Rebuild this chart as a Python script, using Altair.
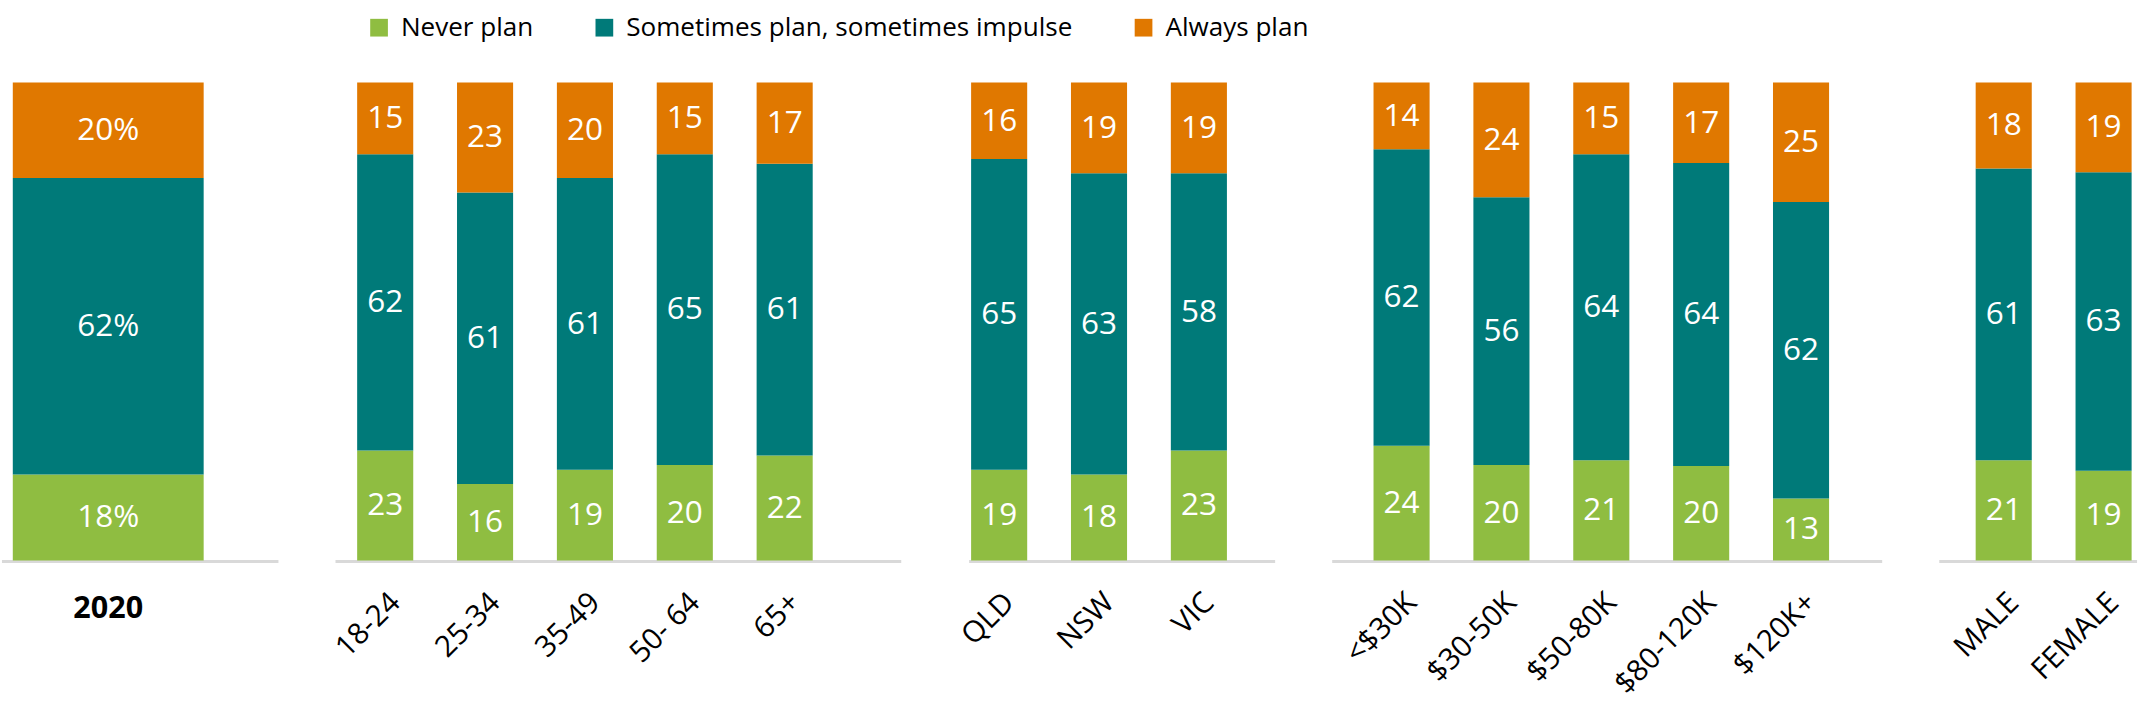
import altair as alt
import pandas as pd

FONT = "Open Sans"
series = ["Never plan", "Sometimes plan, sometimes impulse", "Always plan"]
colors = ["#8fbd41", "#007a79", "#e07800"]

cat_2020 = ["2020"]
never_2020 = [18]
some_2020 = [62]
always_2020 = [20]

age_cats = ["18-24", "25-34", "35-49", "50- 64", "65+"]
age_never = [23, 16, 19, 20, 22]
age_some = [62, 61, 61, 65, 61]
age_always = [15, 23, 20, 15, 17]

state_cats = ["QLD", "NSW", "VIC"]
state_never = [19, 18, 23]
state_some = [65, 63, 58]
state_always = [16, 19, 19]

inc_cats = ["<$30K", "$30-50K", "$50-80K", "$80-120K", "$120K+"]
inc_never = [24, 20, 21, 20, 13]
inc_some = [62, 56, 64, 64, 62]
inc_always = [14, 24, 15, 17, 25]

gen_cats = ["MALE", "FEMALE"]
gen_never = [21, 19]
gen_some = [61, 63]
gen_always = [18, 19]

H = 486


def make_df(cats, never, some, always, pct=False):
    rows = []
    for i, c in enumerate(cats):
        vals = [never[i], some[i], always[i]]
        tot = float(sum(vals))
        cum = 0
        for k, (s, v) in enumerate(zip(series, vals)):
            rows.append({"cat": c, "series": s, "ord": k, "value": v,
                         "mid": (cum + v / 2) / tot,
                         "label": f"{v}%" if pct else str(v)})
            cum += v
    return pd.DataFrame(rows)


color_enc = alt.Color(
    "series:N",
    scale=alt.Scale(domain=series, range=colors),
    legend=alt.Legend(title=None, orient="none", legendX=370, legendY=-69,
                      direction="horizontal", symbolType="square", symbolSize=324,
                      symbolStrokeWidth=0, labelFontSize=26.5, labelFont=FONT,
                      labelColor="#000000", labelOffset=9, columnPadding=58,
                      labelLimit=700),
)


def panel(df, cats, width, rng, pinner, angle, bold):
    axis = alt.Axis(domain=False, ticks=False, tickSize=0, labelAngle=angle,
                    labelPadding=34 if bold else 27,
                    labelFontSize=31 if bold else 30, labelFont=FONT,
                    labelColor="#000000",
                    labelFontWeight="bold" if bold else "normal")
    x = alt.X("cat:N", sort=cats, title=None,
              scale=alt.Scale(range=rng, paddingInner=pinner, paddingOuter=0),
              axis=axis)
    ysc = alt.Scale(domain=[0, 1], nice=False)
    rule = alt.Chart(pd.DataFrame({"a": [0]})).mark_rule(
        color="#d9d9d9", strokeWidth=3).encode(
        x=alt.value(0), x2=alt.value(width), y=alt.value(H + 1))
    bars = alt.Chart(df).mark_bar().encode(
        x=x,
        y=alt.Y("value:Q", stack="normalize", scale=ysc, axis=None),
        color=color_enc,
        order=alt.Order("ord:Q", sort="ascending"),
    )
    text = alt.Chart(df).mark_text(color="white", fontSize=32, font=FONT,
                                   baseline="middle").encode(
        x=x,
        y=alt.Y("mid:Q", scale=ysc, axis=None),
        text="label:N",
    )
    return alt.layer(rule, bars, text).properties(width=width, height=H)


step = 101.5
pi = 1 - 57 / step

p1 = panel(make_df(cat_2020, never_2020, some_2020, always_2020, pct=True),
           cat_2020, 281, [11, 205], 0, 0, True)
p2 = panel(make_df(age_cats, age_never, age_some, age_always),
           age_cats, 575, [22, 22 + step * (5 - pi)], pi, -45, False)
p3 = panel(make_df(state_cats, state_never, state_some, state_always),
           state_cats, 311, [2, 2 + step * (3 - pi)], pi, -45, False)
p4 = panel(make_df(inc_cats, inc_never, inc_some, inc_always),
           inc_cats, 559, [42, 42 + step * (5 - pi)], pi, -45, False)
p5 = panel(make_df(gen_cats, gen_never, gen_some, gen_always),
           gen_cats, 201, [37, 37 + step * (2 - pi)], pi, -45, False)

chart = alt.hconcat(
    p1,
    alt.hconcat(p2, p3, p4, p5, spacing=54),
    spacing=50,
).properties(
    padding={"top": 9, "left": 0, "right": 0, "bottom": 0}
).configure_view(stroke=None)

chart.save("out.html", embed_options={"renderer": "svg", "actions": False})
